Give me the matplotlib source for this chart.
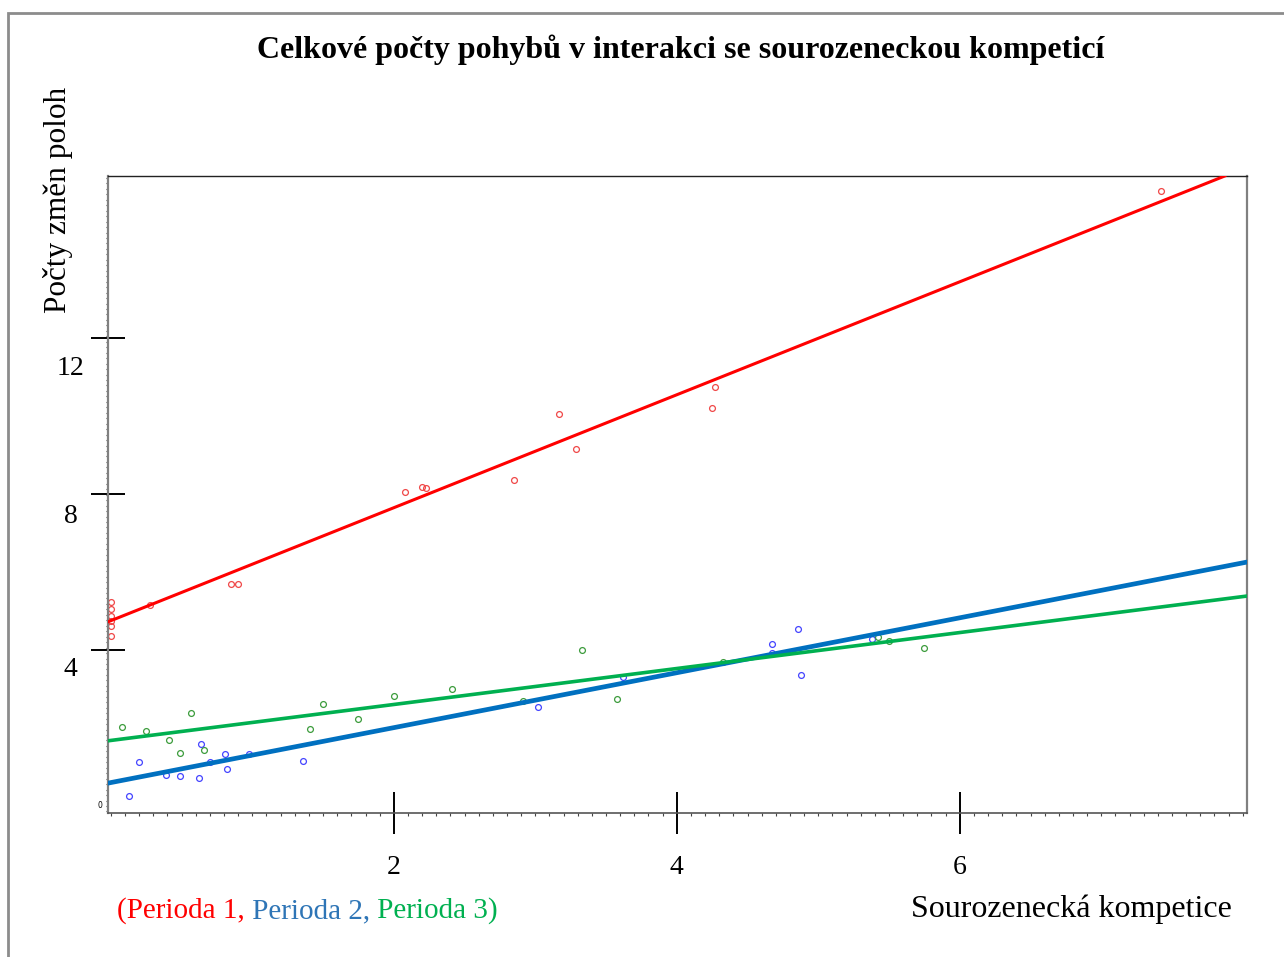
import matplotlib
matplotlib.use("Agg")
import matplotlib.pyplot as plt
from matplotlib.patches import Rectangle
from matplotlib.ticker import MultipleLocator

# ---------------- data ----------------
p1_x = [0.0, 0.0, 0.0, 0.0, 0.0, 0.0, 0.28, 0.85, 0.90, 2.08, 2.20, 2.23,
        2.85, 3.17, 3.29, 4.25, 4.27, 7.42]
p1_y = [5.24, 5.04, 4.87, 4.74, 4.62, 4.37, 5.15, 5.69, 5.69, 8.06, 8.19, 8.16,
        8.36, 10.05, 9.14, 10.19, 10.75, 15.77]

p2_x = [0.13, 0.20, 0.39, 0.49, 0.62, 0.64, 0.70, 0.81, 0.82, 0.98, 1.36,
        3.02, 3.62, 4.67, 4.67, 4.86, 4.88, 5.38]
p2_y = [0.26, 1.13, 0.79, 0.76, 0.72, 1.60, 1.14, 1.33, 0.94, 1.34, 1.15,
        2.54, 3.30, 4.16, 3.91, 4.53, 3.36, 4.28]

p3_x = [0.08, 0.25, 0.41, 0.49, 0.57, 0.66, 1.41, 1.50, 1.75, 2.00, 2.41,
        2.91, 3.33, 3.58, 4.33, 5.42, 5.50, 5.75]
p3_y = [2.03, 1.91, 1.69, 1.37, 2.38, 1.44, 1.97, 2.62, 2.24, 2.83, 2.99,
        2.70, 4.00, 2.74, 3.70, 4.32, 4.24, 4.04]

fit_intercepts = [4.75, 0.60, 1.68]
fit_slopes = [1.448, 0.704, 0.461]

y_ticks = [4, 8, 12]
y_tick_labels = ["4", "8", "12"]
x_ticks = [2, 4, 6]
x_tick_labels = ["2", "4", "6"]

title = "Celkové počty pohybů v interakci se sourozeneckou kompeticí"
ylabel = "Počty změn poloh"
xlabel = "Sourozenecká kompetice"
legend_parts = ["(Perioda 1,", " Perioda 2,", " Perioda 3)"]

# ---------------- style ----------------
line_colors = ["#FF0000", "#0070C0", "#00B050"]
line_widths = [2.2, 3.4, 2.6]
marker_colors = ["#F04848", "#4444FF", "#3C9C3C"]
legend_colors = ["#FF0000", "#2E75B6", "#00B050"]
ylab_offsets = [-14, -16, -22]   # points below tick

serif = ["Liberation Serif", "DejaVu Serif"]

W, H = 1284, 957
fig = plt.figure(figsize=(W / 100, H / 100), dpi=100)
fig.patch.set_facecolor("white")

# outer frame
fig.patches.append(Rectangle((8 / W, -0.1), 1.2, 1 - 13 / H + 0.1,
                             transform=fig.transFigure, fill=False,
                             edgecolor="#8C8C8C", linewidth=2.0, zorder=0))

ax = fig.add_axes([108 / W, 1 - 813 / H, (1247 - 108) / W, (813 - 176) / H])
ax.set_xlim(-0.02, 8.03)
ax.set_ylim(-0.18, 16.15)

xs = [p1_x, p2_x, p3_x]
ys = [p1_y, p2_y, p3_y]
for i in range(3):
    ax.plot(xs[i], ys[i], linestyle="none", marker="o", markersize=4.2,
            markerfacecolor="none", markeredgecolor=marker_colors[i],
            markeredgewidth=0.9, zorder=2)
for i in range(3):
    ax.axline((0, fit_intercepts[i]), slope=fit_slopes[i],
              color=line_colors[i], linewidth=line_widths[i], zorder=3)

# spines
ax.spines["top"].set_color("#222222")
ax.spines["top"].set_linewidth(1.0)
for s in ["left", "right"]:
    ax.spines[s].set_color("#808080")
    ax.spines[s].set_linewidth(1.6)
ax.spines["bottom"].set_color("#555555")
ax.spines["bottom"].set_linewidth(1.2)

# ticks
ax.set_xticks(x_ticks)
ax.set_xticklabels([])
ax.set_yticks(y_ticks)
ax.set_yticklabels([])
ax.xaxis.set_minor_locator(MultipleLocator(0.1))
ax.yaxis.set_minor_locator(MultipleLocator(0.14))
ax.tick_params(axis="x", which="major", direction="inout", length=30,
               width=1.4, color="black")
ax.tick_params(axis="y", which="major", direction="inout", length=24,
               width=1.4, color="black")
ax.tick_params(axis="x", which="minor", direction="out", length=2.5,
               width=0.8, color="#444444")
ax.tick_params(axis="y", which="minor", direction="out", length=1.5,
               width=0.8, color="#444444")

# tick labels as text
ytrans = ax.get_yaxis_transform()
for v, lab, off in zip(y_ticks, y_tick_labels, ylab_offsets):
    ax.annotate(lab, xy=(0, v), xycoords=ytrans, xytext=(-27, off),
                textcoords="offset points", ha="center", va="center",
                fontsize=20, family=serif, annotation_clip=False)
ax.annotate("0", xy=(0, 0), xycoords=ytrans, xytext=(-6, 0),
            textcoords="offset points", ha="center", va="center",
            fontsize=5.5, family=["DejaVu Sans"], annotation_clip=False)
xtrans = ax.get_xaxis_transform()
for v, lab in zip(x_ticks, x_tick_labels):
    ax.annotate(lab, xy=(v, 0), xycoords=xtrans, xytext=(0, -39),
                textcoords="offset points", ha="center", va="center",
                fontsize=20, family=serif, annotation_clip=False)

# title and labels
fig.text(681 / W, 1 - 50 / H, title, ha="center", va="center",
         fontsize=23, fontweight="bold", family=serif)
fig.text(58 / W, 1 - 200 / H, ylabel, ha="center", va="center",
         rotation=90, fontsize=22.5, family=serif)
fig.text(1232 / W, 1 - 909 / H, xlabel, ha="right", va="center",
         fontsize=23, family=serif)

# colored legend line, pieces chained one after another
t = fig.text(117 / W, 1 - 911 / H, legend_parts[0], ha="left", va="center",
             fontsize=21, family=serif, color=legend_colors[0])
for part, col in zip(legend_parts[1:], legend_colors[1:]):
    t = ax.annotate(part, xy=(1, 0), xycoords=t, xytext=(0, 0),
                    textcoords="offset points", ha="left", va="bottom",
                    fontsize=21, family=serif, color=col,
                    annotation_clip=False)

fig.savefig("out.png", dpi=100, facecolor="white")
